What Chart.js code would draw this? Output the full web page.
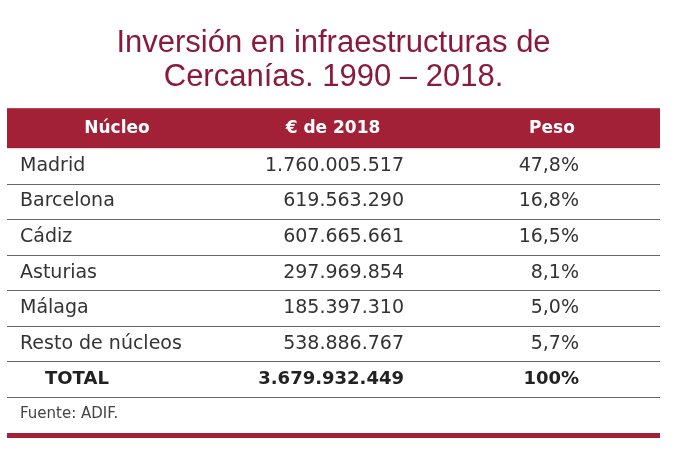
<!DOCTYPE html>
<html>
<head>
<meta charset="utf-8">
<script src="https://cdn.jsdelivr.net/npm/chart.js@4.4.1/dist/chart.umd.min.js"></script>
<style>
  html, body { margin: 0; padding: 0; background: #fff; }
  #wrap { width: 674px; height: 469px; position: relative; }
</style>
</head>
<body>
<div id="wrap"><canvas id="tabla-cercanias"></canvas></div>
<script>
// datos de la tabla
const columnas = ['Núcleo', '€ de 2018', 'Peso'];
const nucleos = ['Madrid', 'Barcelona', 'Cádiz', 'Asturias', 'Málaga', 'Resto de núcleos'];
const inversion = [1760005517, 619563290, 607665661, 297969854, 185397310, 538886767];
const peso = [47.8, 16.8, 16.5, 8.1, 5.0, 5.7];
const totalEtiqueta = 'TOTAL';
const totalInversion = 3679932449;
const totalPeso = 100;
const fuente = 'Fuente: ADIF.';

const ROJO = '#a32136';
const TEXTO = '#333333';
const CUERPO = '"DejaVu Sans", sans-serif';

function miles(v) {
  return String(v).replace(/\B(?=(\d{3})+(?!\d))/g, '.');
}
function porcentaje(v, entero) {
  return entero ? v + '%' : v.toFixed(1).replace('.', ',') + '%';
}

const filas = nucleos.concat([totalEtiqueta]);
const importes = inversion.concat([totalInversion]);
const pesos = peso.concat([totalPeso]);

// dibuja la tabla sobre las posiciones de la escala y
const tablaPlugin = {
  id: 'tabla',
  afterDraw(chart) {
    const ctx = chart.ctx;
    const area = chart.chartArea;
    const y = chart.scales.y;
    const L = area.left, R = area.right;
    const xEtiqueta = L + 13, xTotal = L + 38, xImporte = L + 397, xPeso = L + 572;
    const centros = [L + 110, L + 326, L + 545];

    ctx.save();
    // cabecera
    ctx.fillStyle = ROJO;
    ctx.fillRect(L, area.top - 40, R - L, 40);
    ctx.fillStyle = '#fff';
    ctx.font = 'bold 17px ' + CUERPO;
    ctx.textAlign = 'center';
    ctx.textBaseline = 'middle';
    columnas.forEach((c, i) => ctx.fillText(c, centros[i], area.top - 20));

    // filas
    filas.forEach((f, i) => {
      const py = y.getPixelForValue(i);
      const esTotal = i === filas.length - 1;
      ctx.fillStyle = esTotal ? '#222' : TEXTO;
      ctx.font = (esTotal ? 'bold 18px ' : '19px ') + CUERPO;
      ctx.textAlign = 'left';
      ctx.fillText(f, esTotal ? xTotal : xEtiqueta, py);
      ctx.textAlign = 'right';
      ctx.fillText(miles(importes[i]), xImporte, py);
      ctx.fillText(porcentaje(pesos[i], esTotal), xPeso, py);
    });

    // separadores
    ctx.strokeStyle = '#666';
    ctx.lineWidth = 1.2;
    for (let i = 0; i < filas.length - 1; i++) {
      const ly = Math.round((y.getPixelForValue(i) + y.getPixelForValue(i + 1)) / 2) + 0.5;
      ctx.beginPath();
      ctx.moveTo(L, ly);
      ctx.lineTo(R, ly);
      ctx.stroke();
    }
    ctx.beginPath();
    ctx.moveTo(L, Math.round(area.bottom) + 0.5);
    ctx.lineTo(R, Math.round(area.bottom) + 0.5);
    ctx.stroke();

    // fuente y barra inferior
    ctx.fillStyle = '#444';
    ctx.font = '15px ' + CUERPO;
    ctx.textAlign = 'left';
    ctx.fillText(fuente, xEtiqueta, area.bottom + 17);
    ctx.fillStyle = ROJO;
    ctx.fillRect(L, area.bottom + 36, R - L, 5);
    ctx.restore();
  }
};

new Chart(document.getElementById('tabla-cercanias'), {
  type: 'bar',
  data: {
    labels: filas,
    datasets: [{
      label: '€ de 2018',
      data: importes,
      backgroundColor: 'rgba(0,0,0,0)',
      borderWidth: 0
    }]
  },
  options: {
    indexAxis: 'y',
    responsive: true,
    maintainAspectRatio: false,
    animation: false,
    layout: { padding: { top: 0, left: 7, right: 14, bottom: 72 } },
    scales: {
      x: { display: false, min: 0 },
      y: { display: false }
    },
    plugins: {
      legend: { display: false },
      tooltip: { enabled: false },
      title: {
        display: true,
        text: ['Inversión en infraestructuras de', 'Cercanías. 1990 – 2018.'],
        color: '#8a1a3b',
        font: { family: '"Liberation Sans", Arial, sans-serif', size: 31, weight: 'normal', lineHeight: 1.1 },
        padding: { top: 26, bottom: 54 }
      }
    }
  },
  plugins: [tablaPlugin]
});
</script>
</body>
</html>
